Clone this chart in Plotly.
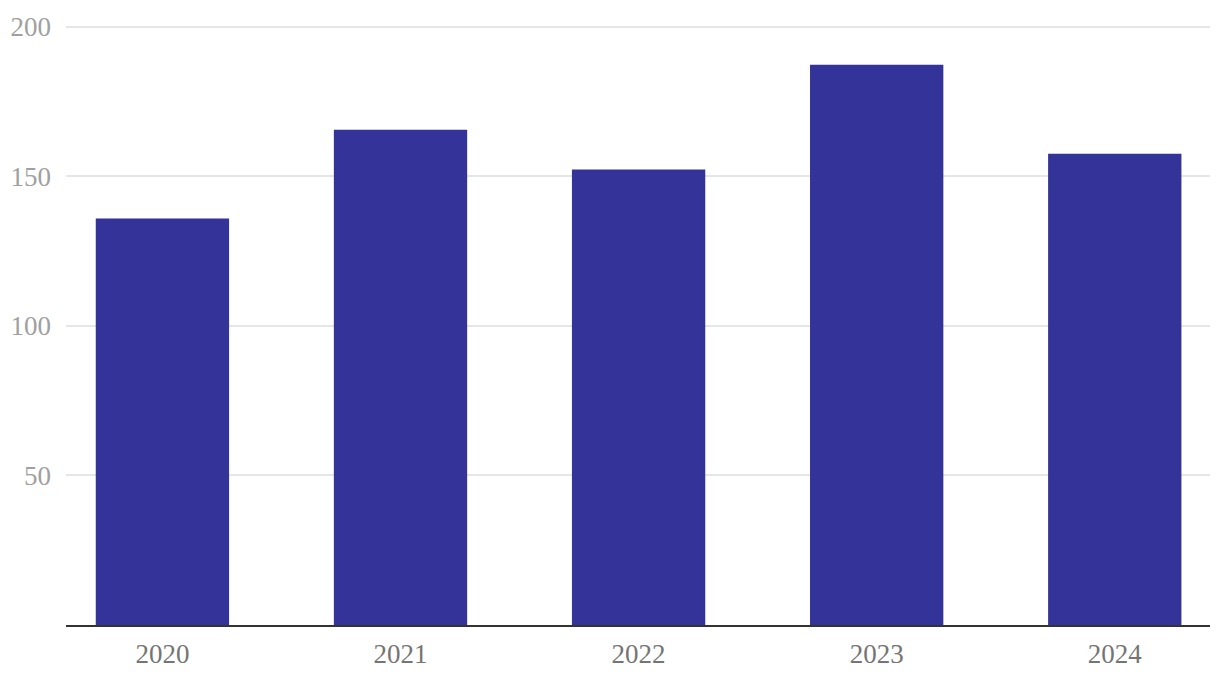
import plotly.graph_objects as go

years = ["2020", "2021", "2022", "2023", "2024"]
values = [135.8, 165.5, 152.2, 187.2, 157.5]
y_ticks = [50, 100, 150, 200]

fig = go.Figure(go.Bar(
    x=years, y=values,
    marker=dict(color="#333399", line=dict(width=0)),
    width=0.56,
    hoverinfo="x+y",
))

fig.update_layout(
    width=1220, height=686,
    margin=dict(l=58, r=18, t=17, b=69),
    plot_bgcolor="white", paper_bgcolor="white",
    showlegend=False,
    font=dict(family="Liberation Serif"),
)
fig.update_xaxes(
    type="category",
    range=[-0.405, 4.40],
    automargin=False,
    showgrid=False,
    showline=True, linecolor="#333333", linewidth=2,
    ticks="", tickfont=dict(size=27, color="#757575"),
    ticklabelstandoff=4,
)
fig.update_yaxes(
    range=[0, 200.5],
    automargin=False,
    tickvals=y_ticks,
    showgrid=True, gridcolor="#e6e6e6", gridwidth=2,
    zeroline=False, showline=False,
    ticks="", tickfont=dict(size=27, color="#a0a0a0"),
    ticklabelstandoff=14,
)

fig.write_html("out.html")
